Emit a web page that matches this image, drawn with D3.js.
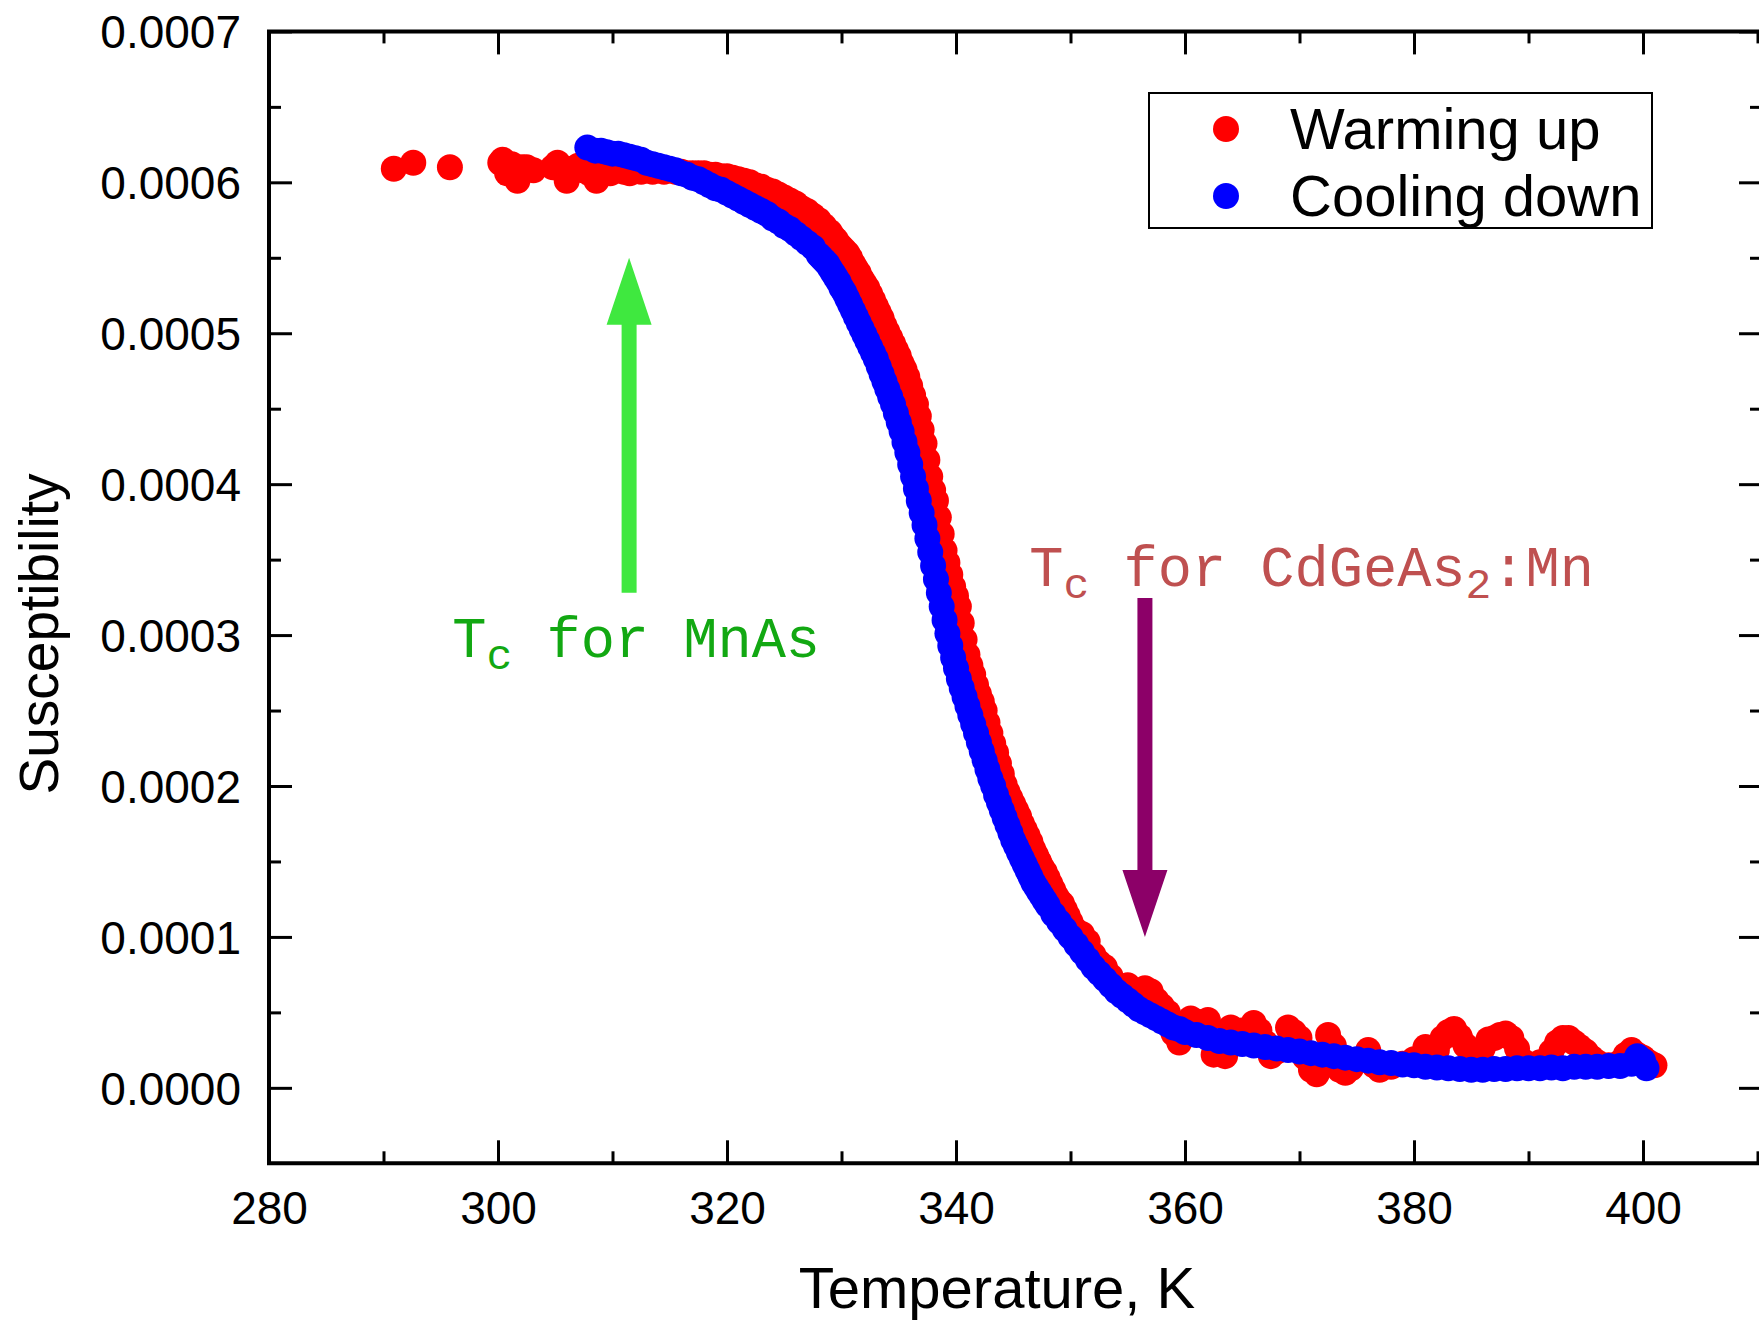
<!DOCTYPE html>
<html><head><meta charset="utf-8">
<script src="https://cdn.jsdelivr.net/npm/d3@7"></script>
<style>body{margin:0;background:#fff}</style>
</head><body>
<svg id="chart" width="1759" height="1320"></svg>
<script>
// ---------- data (susceptibility in units of 1e-4) ----------
const xMajorTicks = [280, 300, 320, 340, 360, 380, 400];
const xMinorTicks = [290, 310, 330, 350, 370, 390, 410];
const yMajorTicks = [0, 1, 2, 3, 4, 5, 6, 7];
const yMinorTicks = [0.5, 1.5, 2.5, 3.5, 4.5, 5.5, 6.5];
const seriesNames = ["Warming up", "Cooling down"];
const seriesColors = ["#ff0000", "#0000ff"];

const warmT = [290.9,292.6,295.8,300.2,300.4,300.8,301.2,301.7,302.1,302.5,303.1,304.8,305.2,305.6,306.0,306.5,307.0,307.4,308.0,308.6,309.2,309.8,310.5,311.0,311.5,312.0,312.5,313.0,313.5,314.0,314.5,315.0,315.5,316.0,316.5,317.0,317.5,318.0,318.5,319.0,319.5,320.0,320.5,321.0,321.5,322.0,322.5,323.0,323.5,324.0,324.5,325.0,325.5,326.0,326.5,327.0,327.5,328.0,328.5,329.0,
329.25,329.5,329.75,330.0,330.25,330.5,330.75,331.0,331.25,331.5,331.75,332.0,332.25,332.5,332.75,333.0,333.25,333.5,333.75,334.0,334.25,334.5,334.75,335.0,335.25,335.5,335.75,336.0,336.25,336.5,336.75,337.0,337.25,337.5,337.75,338.0,338.25,338.5,338.75,339.0,339.25,339.5,339.75,340.0,340.25,340.5,340.75,341.0,341.25,341.5,341.75,342.0,342.25,342.5,342.75,343.0,343.25,343.5,343.75,344.0,344.25,344.5,344.75,345.0,345.25,345.5,345.75,346.0,346.25,346.5,346.75,347.0,347.25,347.5,347.75,348.0,348.25,348.5,348.75,349.0,349.25,349.5,349.75,350.0,350.25,350.5,
351.0,351.5,352.0,352.5,353.0,353.5,354.0,354.5,355.0,355.5,356.0,356.5,357.0,357.5,358.0,358.5,359.0,359.5,360.0,360.5,361.0,361.5,362.0,362.5,363.0,363.5,364.0,364.5,365.0,366.0,366.5,367.0,367.5,368.0,369.0,369.5,370.0,370.5,371.0,371.5,372.0,372.5,373.0,373.5,374.0,374.5,375.0,376.0,376.5,377.0,378.0,379.0,380.0,381.0,382.0,382.5,383.0,383.5,384.0,384.5,385.0,385.5,386.0,386.5,387.0,387.5,388.0,388.5,389.0,389.5,390.0,391.0,392.0,392.5,393.0,393.5,394.0,394.5,395.0,395.5,396.0,397.0,398.0,398.5,399.0,399.5,400.0,400.5,401.0];
const warmChi = [6.09,6.13,6.10,6.13,6.15,6.06,6.12,6.01,6.10,6.10,6.08,6.10,6.13,6.08,6.01,6.09,6.11,6.08,6.06,6.01,6.08,6.06,6.08,6.07,6.06,6.08,6.07,6.08,6.07,6.08,6.07,6.08,6.07,6.07,6.06,6.06,6.06,6.06,6.05,6.05,6.04,6.04,6.03,6.02,6.01,6.00,5.98,5.97,5.95,5.94,5.92,5.90,5.88,5.86,5.83,5.81,5.78,5.75,5.71,5.67,
5.64,5.62,5.59,5.57,5.55,5.53,5.50,5.46,5.43,5.40,5.36,5.33,5.30,5.26,5.22,5.18,5.14,5.10,5.05,5.01,4.97,4.93,4.89,4.85,4.80,4.76,4.71,4.65,4.59,4.53,4.45,4.36,4.27,4.16,4.05,3.96,3.89,3.78,3.67,3.56,3.48,3.40,3.32,3.26,3.19,3.08,2.97,2.87,2.80,2.74,2.67,2.61,2.56,2.50,2.42,2.35,2.28,2.22,2.15,2.08,2.01,1.96,1.92,1.88,1.84,1.80,1.75,1.71,1.67,1.63,1.58,1.54,1.50,1.46,1.43,1.39,1.35,1.31,1.27,1.24,1.22,1.18,1.14,1.10,1.06,1.04,
1.02,0.97,0.88,0.83,0.80,0.74,0.68,0.66,0.68,0.64,0.62,0.66,0.64,0.58,0.54,0.50,0.36,0.30,0.42,0.46,0.44,0.40,0.45,0.22,0.25,0.21,0.40,0.36,0.38,0.43,0.38,0.30,0.21,0.24,0.40,0.37,0.33,0.20,0.12,0.09,0.15,0.35,0.28,0.12,0.10,0.13,0.18,0.25,0.15,0.12,0.14,0.16,0.19,0.27,0.25,0.33,0.37,0.39,0.34,0.28,0.22,0.18,0.26,0.32,0.33,0.35,0.36,0.33,0.26,0.18,0.14,0.17,0.24,0.30,0.33,0.33,0.30,0.27,0.24,0.20,0.17,0.15,0.17,0.22,0.25,0.22,0.20,0.17,0.15];

const coolT = [307.8,308.5,309.0,309.5,310.0,310.5,311.0,311.5,312.0,312.5,313.0,313.5,314.0,314.5,315.0,315.5,316.0,316.5,317.0,317.5,318.0,318.5,319.0,319.5,320.0,320.5,321.0,321.5,322.0,322.5,323.0,323.5,324.0,324.5,325.0,325.5,326.0,326.5,327.0,327.5,
328.0,328.25,328.5,328.75,329.0,329.25,329.5,329.75,330.0,330.25,330.5,330.75,331.0,331.25,331.5,331.75,332.0,332.25,332.5,332.75,333.0,333.25,333.5,333.75,334.0,334.25,334.5,334.75,335.0,335.25,335.5,335.75,336.0,336.25,336.5,336.75,337.0,337.25,337.5,337.75,338.0,338.25,338.5,338.75,339.0,339.25,339.5,339.75,340.0,340.25,340.5,340.75,341.0,341.25,341.5,341.75,342.0,342.25,342.5,342.75,343.0,343.25,343.5,343.75,344.0,344.25,344.5,344.75,345.0,345.25,345.5,345.75,346.0,346.25,346.5,346.75,347.0,347.25,347.5,347.75,348.0,
348.5,349.0,349.5,350.0,350.5,351.0,351.5,352.0,352.5,353.0,353.5,354.0,354.5,355.0,355.5,356.0,356.5,357.0,357.5,358.0,358.5,359.0,359.5,360.0,
361,362,363,364,365,366,367,368,369,370,371,372,373,374,375,376,377,378,379,380,381,382,383,384,385,386,387,388,389,390,391,392,393,394,395,396,397,398,399,399.5,400.0,400.3];
const coolChi = [6.23,6.21,6.21,6.20,6.19,6.19,6.18,6.17,6.16,6.15,6.13,6.12,6.11,6.10,6.09,6.08,6.06,6.05,6.03,6.02,6.00,5.98,5.96,5.95,5.93,5.91,5.89,5.87,5.85,5.83,5.81,5.79,5.76,5.74,5.71,5.69,5.66,5.63,5.60,5.57,
5.52,5.50,5.48,5.46,5.43,5.40,5.37,5.34,5.30,5.27,5.23,5.19,5.15,5.11,5.07,5.03,4.99,4.95,4.91,4.87,4.83,4.78,4.73,4.68,4.63,4.58,4.53,4.47,4.41,4.35,4.28,4.21,4.13,4.05,3.97,3.89,3.81,3.73,3.64,3.55,3.46,3.37,3.28,3.19,3.10,3.01,2.93,2.85,2.78,2.71,2.65,2.59,2.53,2.47,2.41,2.35,2.29,2.23,2.17,2.11,2.05,2.00,1.94,1.89,1.84,1.79,1.74,1.69,1.64,1.60,1.56,1.52,1.48,1.44,1.40,1.36,1.33,1.30,1.27,1.24,1.21,
1.15,1.10,1.05,1.00,0.95,0.90,0.85,0.80,0.76,0.72,0.68,0.64,0.61,0.58,0.55,0.52,0.50,0.48,0.46,0.44,0.42,0.40,0.39,0.37,
0.35,0.33,0.31,0.30,0.29,0.28,0.27,0.26,0.25,0.24,0.23,0.22,0.21,0.20,0.19,0.18,0.17,0.165,0.155,0.15,0.14,0.135,0.13,0.125,0.12,0.12,0.125,0.125,0.13,0.13,0.13,0.135,0.13,0.14,0.14,0.14,0.145,0.145,0.16,0.21,0.18,0.13];

// annotations (data coordinates)
const annMnAs = {tx: 296.0, ty: 2.854, arrowT: 311.45, arrowFrom: 3.28, arrowTo: 5.50};
const annCdGe = {tx: 346.4, ty: 3.325, arrowT: 356.5, arrowFrom: 3.245, arrowTo: 1.0};

// ---------- layout ----------
const W = 1759, H = 1320;
const L = 269, R = 1762, T = 31.4, B = 1163.3;
const svg = d3.select("#chart");
svg.append("rect").attr("width", W).attr("height", H).attr("fill", "#fff");

const x = d3.scaleLinear().domain([280, 400]).range([L, 1643]);
const y = d3.scaleLinear().domain([-0.5, 7]).range([B, T]);

const sans = "'Liberation Sans', Arial, sans-serif";
const mono = "'Liberation Mono', 'Courier New', monospace";

// ---------- points ----------
const warm = warmT.map((t, i) => ({t, v: warmChi[i]}));
const cool = coolT.map((t, i) => ({t, v: coolChi[i]}));
const R_DOT = 13;
svg.append("g").selectAll("circle").data(warm).join("circle")
  .attr("cx", d => x(d.t)).attr("cy", d => y(d.v)).attr("r", R_DOT).attr("fill", seriesColors[0]);
svg.append("g").selectAll("circle").data(cool).join("circle")
  .attr("cx", d => x(d.t)).attr("cy", d => y(d.v)).attr("r", R_DOT).attr("fill", seriesColors[1]);

// ---------- axes ----------
function styleAxis(g, width) {
  g.select(".domain").remove();
  g.selectAll(".tick line").attr("stroke", "#000").attr("stroke-width", width);
}
const fmt = v => (v * 1e-4).toFixed(4);

// bottom
const gb = svg.append("g").attr("transform", `translate(0,${B})`)
  .call(d3.axisBottom(x).tickValues(xMajorTicks).tickSizeInner(-23).tickSizeOuter(0).tickPadding(28));
styleAxis(gb, 3);
gb.selectAll("text").attr("font-family", sans).attr("font-size", 46).attr("fill", "#000");
const gbm = svg.append("g").attr("transform", `translate(0,${B})`)
  .call(d3.axisBottom(x).tickValues(xMinorTicks).tickSizeInner(-12).tickSizeOuter(0).tickFormat(""));
styleAxis(gbm, 3);
// top
const gt = svg.append("g").attr("transform", `translate(0,${T})`)
  .call(d3.axisTop(x).tickValues(xMajorTicks).tickSizeInner(-23).tickSizeOuter(0).tickFormat(""));
styleAxis(gt, 3);
const gtm = svg.append("g").attr("transform", `translate(0,${T})`)
  .call(d3.axisTop(x).tickValues(xMinorTicks).tickSizeInner(-12).tickSizeOuter(0).tickFormat(""));
styleAxis(gtm, 3);
// left
const gl = svg.append("g").attr("transform", `translate(${L},0)`)
  .call(d3.axisLeft(y).tickValues(yMajorTicks).tickSizeInner(-23).tickSizeOuter(0).tickPadding(28).tickFormat(fmt));
styleAxis(gl, 3);
gl.selectAll("text").attr("font-family", sans).attr("font-size", 46).attr("fill", "#000").attr("dy", "0.36em");
const glm = svg.append("g").attr("transform", `translate(${L},0)`)
  .call(d3.axisLeft(y).tickValues(yMinorTicks).tickSizeInner(-12).tickSizeOuter(0).tickFormat(""));
styleAxis(glm, 3);
// right
const gr = svg.append("g").attr("transform", `translate(${R},0)`)
  .call(d3.axisRight(y).tickValues(yMajorTicks).tickSizeInner(-23).tickSizeOuter(0).tickFormat(""));
styleAxis(gr, 3);
const grm = svg.append("g").attr("transform", `translate(${R},0)`)
  .call(d3.axisRight(y).tickValues(yMinorTicks).tickSizeInner(-12).tickSizeOuter(0).tickFormat(""));
styleAxis(grm, 3);

// frame
svg.append("path")
  .attr("d", `M${L},${T}H${R}V${B}H${L}Z`)
  .attr("fill", "none").attr("stroke", "#000").attr("stroke-width", 4).attr("stroke-linejoin", "miter");

// axis titles
svg.append("text").attr("x", 997).attr("y", 1308).attr("text-anchor", "middle")
  .attr("font-family", sans).attr("font-size", 58).attr("fill", "#000").text("Temperature, K");
svg.append("text").attr("transform", "translate(58,634) rotate(-90)").attr("text-anchor", "middle")
  .attr("font-family", sans).attr("font-size", 55).attr("fill", "#000").text("Susceptibility");

// ---------- legend ----------
const lg = svg.append("g");
lg.append("rect").attr("x", 1149).attr("y", 93).attr("width", 503).attr("height", 135)
  .attr("fill", "#fff").attr("stroke", "#000").attr("stroke-width", 2);
seriesNames.forEach((name, i) => {
  const cy = 129 + i * 67;
  lg.append("circle").attr("cx", 1226).attr("cy", cy).attr("r", R_DOT).attr("fill", seriesColors[i]);
  lg.append("text").attr("x", 1290).attr("y", cy + 20).attr("font-family", sans).attr("font-size", 58)
    .attr("fill", "#000").text(name);
});

// ---------- annotations ----------
function arrow(t, vFrom, vTo, color) {
  const xc = x(t), y0 = y(vFrom), y1 = y(vTo);
  const dir = y1 < y0 ? -1 : 1;
  const headLen = 67, hw = 22.5, sw = 7.5;
  const yb = y1 - dir * headLen;
  svg.append("path")
    .attr("d", `M${xc - sw},${y0}L${xc - sw},${yb}L${xc - hw},${yb}L${xc},${y1}L${xc + hw},${yb}L${xc + sw},${yb}L${xc + sw},${y0}Z`)
    .attr("fill", color);
}
arrow(annMnAs.arrowT, annMnAs.arrowFrom, annMnAs.arrowTo, "#3fe83f");
arrow(annCdGe.arrowT, annCdGe.arrowFrom, annCdGe.arrowTo, "#8c0068");

const t1 = svg.append("text").attr("x", x(annMnAs.tx)).attr("y", y(annMnAs.ty))
  .attr("font-family", mono).attr("font-size", 57).attr("fill", "#12a812");
t1.append("tspan").text("T");
t1.append("tspan").attr("font-size", 43).attr("dy", 12).text("c");
t1.append("tspan").attr("dy", -12).text(" for MnAs");

const t2 = svg.append("text").attr("x", x(annCdGe.tx)).attr("y", y(annCdGe.ty))
  .attr("font-family", mono).attr("font-size", 57).attr("fill", "#bf5050");
t2.append("tspan").text("T");
t2.append("tspan").attr("font-size", 43).attr("dy", 12).text("c");
t2.append("tspan").attr("dy", -12).text(" for CdGeAs");
t2.append("tspan").attr("font-size", 43).attr("dy", 12).text("2");
t2.append("tspan").attr("dy", -12).text(":Mn");
</script>
</body></html>
